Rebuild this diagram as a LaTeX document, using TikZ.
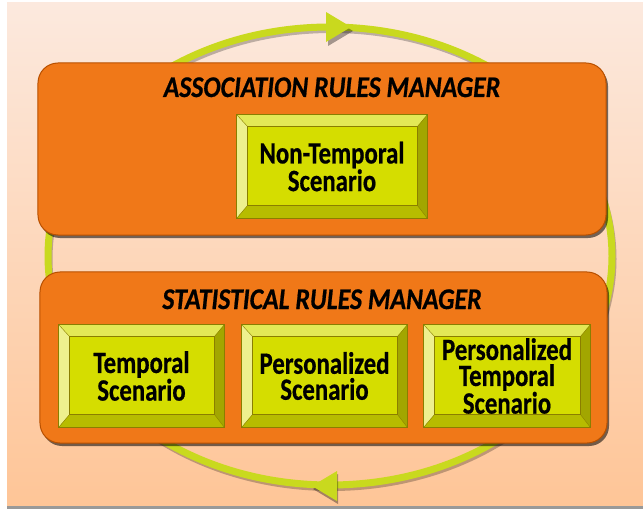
\documentclass[tikz,border=0pt]{standalone}
\usepackage{fontspec}
\newfontfamily\calfont[FakeStretch=0.8,FakeBold=0.5]{Carlito}
\newfontfamily\titlefont[FakeStretch=0.86,FakeBold=0.6]{Carlito}
\usetikzlibrary{calc,shadows}
\definecolor{bgtop}{HTML}{FCE9DE}
\definecolor{bgbot}{HTML}{FEC597}
\definecolor{loopc}{HTML}{C9D91E}
\definecolor{orng}{HTML}{F07818}
\definecolor{orngd}{HTML}{B85000}
\definecolor{face}{HTML}{D5DD00}
\definecolor{bvtop}{HTML}{E3E856}
\definecolor{bvleft}{HTML}{EEF08E}
\definecolor{bvright}{HTML}{A2A600}
\definecolor{bvbot}{HTML}{B7BC00}
\definecolor{bvline}{HTML}{8A7E00}
\tikzset{
 manager/.style={draw=orngd, line width=1bp, fill=orng, rounded corners=20bp,
   drop shadow={shadow xshift=2bp, shadow yshift=-3bp, fill=black, opacity=0.55}, inner sep=0pt},
 scen/.style={fill=face, draw=bvline, line width=0.6bp, inner sep=0pt,
   minimum height=102bp, font=\calfont\bfseries\fontsize{31bp}{26bp}\selectfont, align=center},
 mtitle/.style={font=\titlefont\bfseries\itshape\fontsize{30bp}{32bp}\selectfont, inner sep=0pt},
 loopline/.style={loopc, line width=7bp},
 loopshadow/.style={black, opacity=0.25, line width=6bp},
 tipshadow/.style={fill=black, opacity=0.35},
}
\newcommand\bevel[1]{%
 \fill[bvtop] (#1.north west) -- (#1.north east) -- ($(#1.north east)+(-10,12)$) -- ($(#1.north west)+(11,12)$) -- cycle;
 \fill[bvleft] (#1.north west) -- ($(#1.north west)+(11,12)$) -- ($(#1.south west)+(11,-13)$) -- (#1.south west) -- cycle;
 \fill[bvright] (#1.north east) -- ($(#1.north east)+(-10,12)$) -- ($(#1.south east)+(-10,-13)$) -- (#1.south east) -- cycle;
 \fill[bvbot] (#1.south west) -- ($(#1.south west)+(11,-13)$) -- ($(#1.south east)+(-10,-13)$) -- (#1.south east) -- cycle;
 \draw[bvline, line width=0.5bp] ($(#1.north west)+(11,12)$) rectangle ($(#1.south east)+(-10,-13)$);
 \draw[bvline, line width=0.4bp] (#1.north west) -- ($(#1.north west)+(11,12)$)
   (#1.north east) -- ($(#1.north east)+(-10,12)$)
   (#1.south west) -- ($(#1.south west)+(11,-13)$)
   (#1.south east) -- ($(#1.south east)+(-10,-13)$);
 \draw[bvline, line width=0.7bp] (#1.north west) rectangle (#1.south east);
}
\begin{document}
\begin{tikzpicture}[x=1bp,y=-1bp]
\useasboundingbox (0,0) rectangle (643,510);
% background
\shade[top color=bgtop, bottom color=bgbot] (7,3) rectangle (643,506);
\fill[black!40] (7,506) rectangle (643,509);
% loop
\draw[loopshadow] (331.5,259) ellipse [x radius=282, y radius=229];
\draw[loopline] (330,256) ellipse [x radius=282, y radius=229];
% arrow tips
\fill[tipshadow] (328,16) -- (353,31) -- (328,46) -- cycle;
\fill[loopc] (326,12) -- (351,27) -- (326,42) -- cycle;
\fill[tipshadow] (313,489) -- (338,474) -- (338,504) -- cycle;
\fill[loopc] (312,486) -- (337,471) -- (337,501) -- cycle;
% managers
\node[manager, minimum width=568bp, minimum height=172bp] (arm) at (322,149) {};
\node[manager, minimum width=567bp, minimum height=171bp] (srm) at (323.5,357.5) {};
\node[mtitle, anchor=base] (armt) at (332,97) {ASSOCIATION RULES MANAGER};
\node[mtitle, anchor=base] (srmt) at (322,309) {STATISTICAL RULES MANAGER};
% scenarios
\node[scen, minimum width=190bp, minimum height=103bp] (nt) at (332,166.5) {Non-Temporal\\Scenario};
\bevel{nt}
\node[scen, minimum width=165bp] (ts) at (141.5,376) {Temporal\\Scenario};
\bevel{ts}
\node[scen, minimum width=165bp] (ps) at (324.5,376) {Personalized\\Scenario};
\bevel{ps}
\node[scen, minimum width=166bp] (pts) at (507,376) {Personalized\\Temporal\\Scenario};
\bevel{pts}
\end{tikzpicture}
\end{document}
